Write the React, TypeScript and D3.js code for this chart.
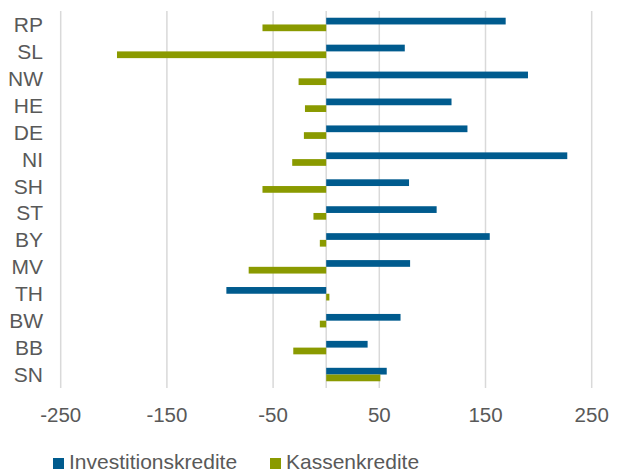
import React from 'react'
import * as d3 from 'd3'

const WIDTH = 620
const HEIGHT = 474
const FONT = '"Liberation Sans", Arial, sans-serif'
const TEXT_COLOUR = '#595959'
const GRID_COLOUR = '#d9d9d9'

const categories = ['RP', 'SL', 'NW', 'HE', 'DE', 'NI', 'SH', 'ST', 'BY', 'MV', 'TH', 'BW', 'BB', 'SN']
const seriesNames = ['Investitionskredite', 'Kassenkredite']
const seriesColours = ['#005b8e', '#8a9a00']
const investitionskredite = [169, 74, 190, 118, 133, 227, 78, 104, 154, 79, -94, 70, 39, 57]
const kassenkredite = [-60, -197, -26, -20, -21, -32, -60, -12, -6, -73, 3, -6, -31, 51]
const tickValues = [-250, -150, -50, 50, 150, 250]
const gridValues = [-250, -150, -50, 0, 50, 150, 250]

const seriesValues = [investitionskredite, kassenkredite]

export default function App() {
  const x = d3.scaleLinear().domain([-250, 250]).range([60.7, 591.7])
  const y = d3.scaleBand<string>()
    .domain(categories)
    .range([11, 388])
    .paddingInner(0.5)
    .paddingOuter(0.25)
  const inner = d3.scaleBand<string>()
    .domain(seriesNames)
    .range([0, y.bandwidth()])

  const legendX = [53, 270]

  return (
    <svg width={WIDTH} height={HEIGHT} style={{ position: 'absolute', left: 0, top: 0 }}
      fontFamily={FONT}>
      {gridValues.map(v => (
        <line key={v} x1={x(v)} x2={x(v)} y1={11} y2={388}
          stroke={GRID_COLOUR} strokeWidth={1.5} />
      ))}

      {seriesNames.map((name, si) => (
        <g key={name} fill={seriesColours[si]}>
          {categories.map((c, i) => {
            const v = seriesValues[si][i]
            return (
              <rect key={c}
                x={Math.min(x(0), x(v))}
                width={Math.abs(x(v) - x(0))}
                y={(y(c) as number) + (inner(name) as number)}
                height={inner.bandwidth()} />
            )
          })}
        </g>
      ))}

      {categories.map(c => (
        <text key={c} x={43} y={(y(c) as number) + y.bandwidth() / 2 + 7.5}
          textAnchor="end" fontSize={21} fill={TEXT_COLOUR}>{c}</text>
      ))}

      {tickValues.map(v => (
        <text key={v} x={x(v)} y={422} textAnchor="middle" fontSize={20.5}
          fill={TEXT_COLOUR}>{v}</text>
      ))}

      {seriesNames.map((name, si) => (
        <g key={name} transform={`translate(${legendX[si]}, 458)`}>
          <rect width={11} height={11} fill={seriesColours[si]} />
          <text x={16} y={11} fontSize={21} fill={TEXT_COLOUR}>{name}</text>
        </g>
      ))}
    </svg>
  )
}
